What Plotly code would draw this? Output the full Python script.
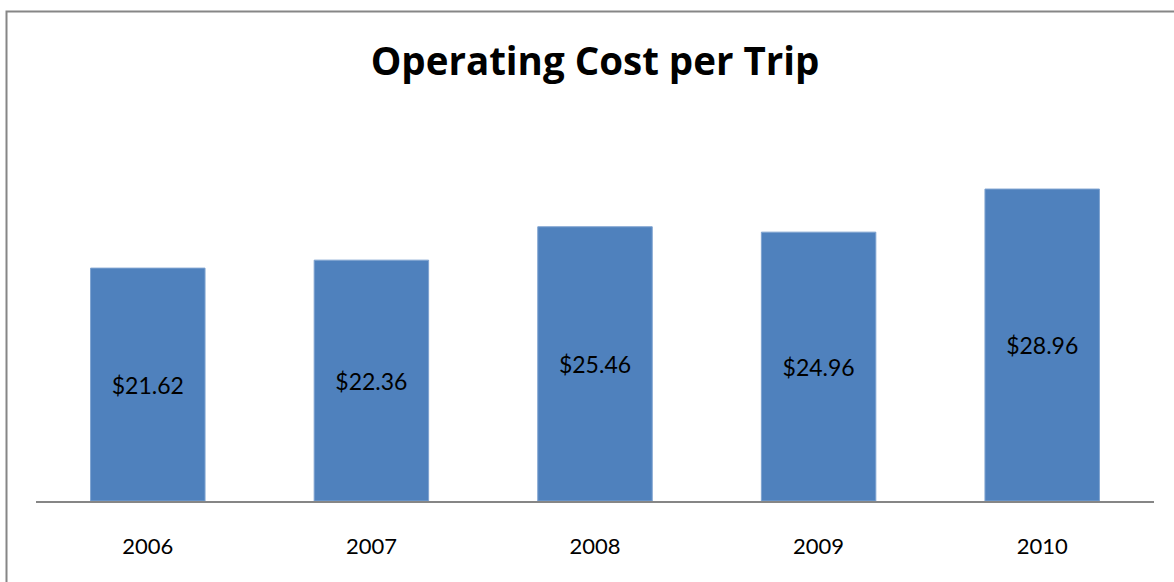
import plotly.graph_objects as go

years = ["2006", "2007", "2008", "2009", "2010"]
cost_per_trip = [21.62, 22.36, 25.46, 24.96, 28.96]
labels = ["$21.62", "$22.36", "$25.46", "$24.96", "$28.96"]

W, H = 1174, 582
ML, MR, MT, MB = 36, 20, 124, 81
pw, ph = W - ML - MR, H - MT - MB

def px_to_paper_x(px):
    return (px - ML) / pw

def px_to_paper_y(py):
    return (H - MB - py) / ph

fig = go.Figure(
    go.Bar(
        x=years,
        y=cost_per_trip,
        text=labels,
        textposition="inside",
        insidetextanchor="middle",
        textangle=0,
        textfont=dict(family="Lato", size=23, color="black"),
        marker=dict(color="#4F81BD", line=dict(color="#7FA3D0", width=1)),
        hoverinfo="x+y",
    )
)

fig.update_layout(
    width=W,
    height=H,
    margin=dict(l=ML, r=MR, t=MT, b=MB, autoexpand=False),
    paper_bgcolor="white",
    plot_bgcolor="white",
    bargap=0.488,
    showlegend=False,
    title=dict(
        text="<b>Operating Cost per Trip</b>",
        x=595 / W,
        xanchor="center",
        y=1 - 62 / H,
        yanchor="middle",
        font=dict(family="Open Sans", size=38.5, color="black"),
    ),
    xaxis=dict(
        showline=True,
        linecolor="#868686",
        linewidth=1.5,
        ticks="",
        tickfont=dict(family="Lato", size=22, color="black"),
        showgrid=False,
        ticklabelstandoff=25,
    ),
    yaxis=dict(
        range=[0, 35],
        visible=False,
        showgrid=False,
        zeroline=False,
    ),
    shapes=[
        dict(
            type="rect",
            xref="paper",
            yref="paper",
            x0=px_to_paper_x(6.5),
            x1=px_to_paper_x(1200),
            y0=px_to_paper_y(11.5),
            y1=px_to_paper_y(620),
            line=dict(color="#868686", width=2),
            fillcolor="rgba(0,0,0,0)",
            layer="above",
        )
    ],
)

fig.write_html(
    "out.html",
    config={"displayModeBar": False},
    post_script="document.body.style.margin='0px';document.body.style.overflow='hidden';",
)
